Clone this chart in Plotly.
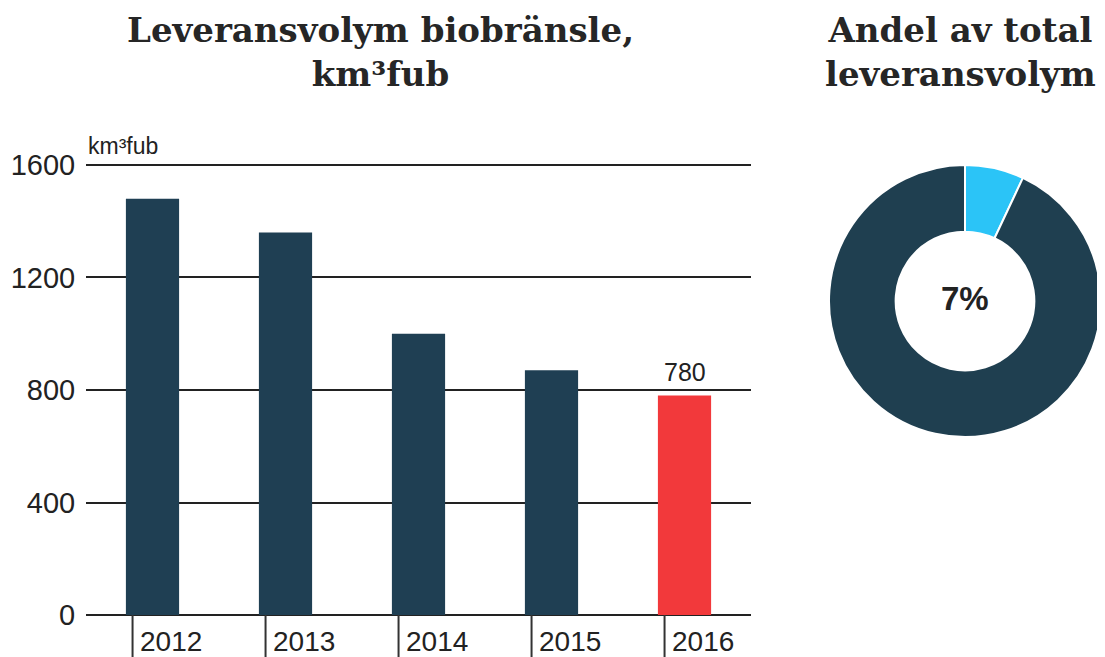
import plotly.graph_objects as go

years = ["2012", "2013", "2014", "2015", "2016"]
volumes = [1480, 1360, 1000, 870, 780]
bar_colors = ["#1f3f53", "#1f3f53", "#1f3f53", "#1f3f53", "#f2393b"]
y_ticks = [0, 400, 800, 1200, 1600]
pie_labels = ["Biobränsle", "Övrigt"]
pie_values = [7, 93]
pie_colors = ["#2bc4f7", "#1f3f50"]

W, H = 1105, 657
OFF = 8  # page body margin
def px(x):
    return (x - OFF) / W
def py(y):
    return 1 - (y - OFF) / H

fig = go.Figure()
fig.add_trace(go.Bar(
    x=list(range(len(years))), y=volumes, marker=dict(color=bar_colors, line=dict(width=0)),
    width=0.4, showlegend=False, hoverinfo="skip",
))
fig.add_trace(go.Pie(
    labels=pie_labels, values=pie_values, hole=0.51, sort=False, direction="clockwise",
    rotation=0, marker=dict(colors=pie_colors, line=dict(color="white", width=2)),
    textinfo="none", showlegend=False,
    domain=dict(x=[px(828), px(1102)], y=[py(437), py(165)]),
))

annotations = []
shapes = []
tick_off = 0.15
for i, yr in enumerate(years):
    annotations.append(dict(
        x=i - tick_off, y=py(641), xref="x", yref="paper", text=yr, showarrow=False,
        xanchor="left", yanchor="middle", xshift=5,
        font=dict(family="Liberation Sans, Arial", size=28, color="#222"),
    ))
    shapes.append(dict(
        type="line", xref="x", yref="paper", x0=i - tick_off, x1=i - tick_off,
        y0=py(615), y1=py(657), line=dict(color="#333", width=2),
    ))

annotations.append(dict(
    x=len(years) - 1, y=volumes[-1], xref="x", yref="y", text=str(volumes[-1]),
    showarrow=False, yanchor="bottom", yshift=8,
    font=dict(family="Liberation Sans, Arial", size=25, color="#222"),
))
annotations.append(dict(
    x=px(86), y=py(146), xref="paper", yref="paper", text="km³fub", showarrow=False,
    xanchor="left", yanchor="middle",
    font=dict(family="Liberation Sans, Arial", size=23, color="#222"),
))
title_font = dict(family="DejaVu Serif, serif", size=34, color="#262626")
annotations.append(dict(
    x=px(380), y=py(52), xref="paper", yref="paper",
    text="<b>Leveransvolym biobränsle,<br>km³fub</b>", showarrow=False,
    xanchor="center", yanchor="middle", font=title_font,
))
annotations.append(dict(
    x=px(960), y=py(52), xref="paper", yref="paper",
    text="<b>Andel av total<br>leveransvolym</b>", showarrow=False,
    xanchor="center", yanchor="middle", font=title_font,
))
annotations.append(dict(
    x=px(965), y=py(298), xref="paper", yref="paper",
    text=f"<b>{pie_values[0]}%</b>", showarrow=False,
    xanchor="center", yanchor="middle",
    font=dict(family="Liberation Sans, Arial", size=33, color="#222"),
))

fig.update_layout(
    width=W, height=H, margin=dict(l=0, r=0, t=0, b=0),
    paper_bgcolor="white", plot_bgcolor="white",
    xaxis=dict(domain=[px(86), px(751)], range=[-0.5, 4.5], showticklabels=False,
               showgrid=False, zeroline=False, ticks="", automargin=False),
    yaxis=dict(domain=[py(615), py(163.3)], range=[0, 1606], tickvals=y_ticks,
               showgrid=True, gridcolor="#222", gridwidth=2, zeroline=True,
               zerolinecolor="#222", zerolinewidth=2, ticks="outside", ticklen=4,
               tickcolor="rgba(0,0,0,0)", automargin=False,
               tickfont=dict(family="Liberation Sans, Arial", size=29, color="#222")),
    annotations=annotations, shapes=shapes,
)
fig.write_html("out.html")
